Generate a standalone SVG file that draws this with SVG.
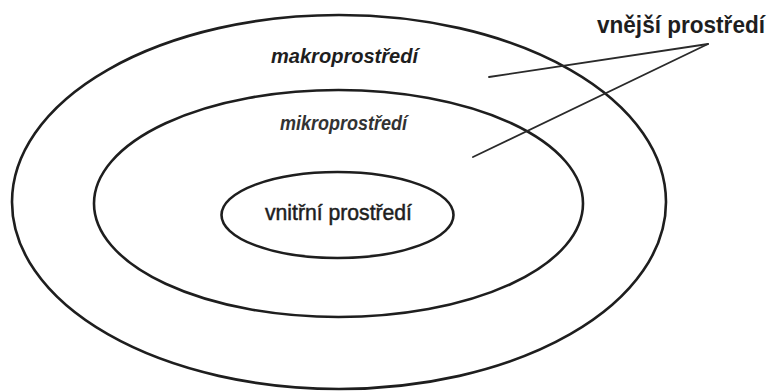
<svg xmlns="http://www.w3.org/2000/svg" width="769" height="391" viewBox="0 0 769 391">
<style>
.ring{fill:none;stroke:#1e1e1e;stroke-width:2.6}
.conn{fill:none;stroke:#2a2a2a;stroke-width:1.8;stroke-linecap:round}
.lbl{font-family:"Liberation Sans",Arial,sans-serif;fill:#1e1e1e}
.it{font-style:italic;font-weight:bold}
</style>
<rect width="769" height="391" fill="#ffffff"/>
<g id="makroprostredi">
<ellipse class="ring" cx="339" cy="202" rx="327" ry="187"/>
<text class="lbl it" x="271" y="63" font-size="21" textLength="147" lengthAdjust="spacingAndGlyphs">makroprostředí</text>
</g>
<g id="mikroprostredi">
<ellipse class="ring" cx="338.5" cy="203.5" rx="244.5" ry="113.5"/>
<text class="lbl it" x="280" y="130" font-size="19.5" style="fill:#333" textLength="127" lengthAdjust="spacingAndGlyphs">mikroprostředí</text>
</g>
<g id="vnitrni-prostredi">
<ellipse class="ring" cx="337.5" cy="215" rx="116" ry="43"/>
<text class="lbl" x="265" y="220" font-size="22" stroke="#1e1e1e" stroke-width="0.5" textLength="147" lengthAdjust="spacingAndGlyphs">vnitřní prostředí</text>
</g>
<g id="vnejsi-prostredi">
<text class="lbl" x="597" y="33" font-size="23" font-weight="bold" textLength="168" lengthAdjust="spacingAndGlyphs">vnější prostředí</text>
</g>
<g id="connectors">
<line class="conn" x1="708" y1="44" x2="489" y2="77"/>
<line class="conn" x1="708" y1="44" x2="473" y2="157"/>
</g>
</svg>
